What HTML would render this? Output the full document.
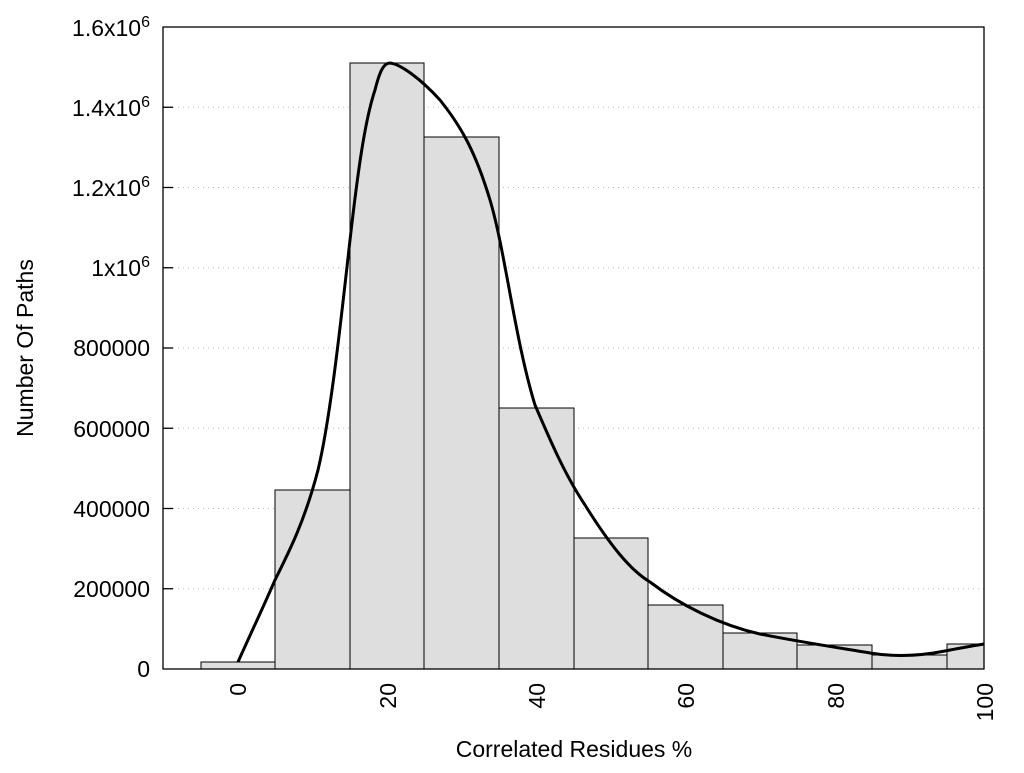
<!DOCTYPE html>
<html><head><style>body{margin:0;background:#fff}</style></head><body>
<svg width="1024" height="768" xmlns="http://www.w3.org/2000/svg" font-family="Liberation Sans, Arial, sans-serif" font-size="23">
<rect width="1024" height="768" fill="#fff"/>
<g stroke="#bbb" stroke-dasharray="1,4" stroke-width="1">
<line x1="173" x2="984" y1="588.75" y2="588.75"/><line x1="173" x2="984" y1="508.5" y2="508.5"/>
<line x1="173" x2="984" y1="428.25" y2="428.25"/><line x1="173" x2="984" y1="348" y2="348"/>
<line x1="173" x2="984" y1="267.75" y2="267.75"/><line x1="173" x2="984" y1="187.5" y2="187.5"/>
<line x1="173" x2="984" y1="107.25" y2="107.25"/>
</g>
<g fill="#dedede" stroke="#000" stroke-width="1">
<rect x="201" y="662" width="74" height="7"/>
<rect x="275" y="490" width="75" height="179"/>
<rect x="350" y="63" width="74" height="606"/>
<rect x="424" y="137" width="75" height="532"/>
<rect x="499" y="408" width="75" height="261"/>
<rect x="574" y="538" width="74" height="131"/>
<rect x="648" y="605" width="75" height="64"/>
<rect x="723" y="633" width="74" height="36"/>
<rect x="797" y="645" width="75" height="24"/>
<rect x="872" y="655" width="75" height="14"/>
<rect x="947" y="644" width="37" height="25"/>
</g>
<path d="M238,662 C250,635 262,610 275,580 C290,550 305,520 318,470 C330,420 340,330 350,240 C358,170 365,120 375,90 C380,70 384,63 390,63 C400,64 420,78 440,100 C460,125 475,150 490,200 C505,250 515,340 535,405 C550,440 565,475 585,505 C610,545 630,570 650,582 C680,605 720,625 760,634 C800,642 840,648 870,653 C895,657 920,656 945,651 C960,648 972,646 984,644" fill="none" stroke="#000" stroke-width="3"/>
<rect x="163" y="27" width="821" height="642" fill="none" stroke="#000" stroke-width="1.3"/>
<g stroke="#000" stroke-width="1.3">
<line x1="163" x2="173" y1="588.75" y2="588.75"/><line x1="163" x2="173" y1="508.5" y2="508.5"/>
<line x1="163" x2="173" y1="428.25" y2="428.25"/><line x1="163" x2="173" y1="348" y2="348"/>
<line x1="163" x2="173" y1="267.75" y2="267.75"/><line x1="163" x2="173" y1="187.5" y2="187.5"/>
<line x1="163" x2="173" y1="107.25" y2="107.25"/>
</g>
<g text-anchor="end" fill="#000">
<text x="150" y="677">0</text>
<text x="150" y="597">200000</text>
<text x="150" y="517">400000</text>
<text x="150" y="437">600000</text>
<text x="150" y="356">800000</text>
<text x="150" y="276">1x10<tspan dy="-9" font-size="16">6</tspan></text>
<text x="150" y="196">1.2x10<tspan dy="-9" font-size="16">6</tspan></text>
<text x="150" y="116">1.4x10<tspan dy="-9" font-size="16">6</tspan></text>
<text x="150" y="36">1.6x10<tspan dy="-9" font-size="16">6</tspan></text>
</g>
<g text-anchor="end" fill="#000">
<text transform="translate(246,683) rotate(-90)">0</text>
<text transform="translate(396,683) rotate(-90)">20</text>
<text transform="translate(545,683) rotate(-90)">40</text>
<text transform="translate(694,683) rotate(-90)">60</text>
<text transform="translate(844,683) rotate(-90)">80</text>
<text transform="translate(993,683) rotate(-90)">100</text>
</g>
<text x="574" y="757" text-anchor="middle">Correlated Residues %</text>
<text transform="translate(33,348) rotate(-90)" text-anchor="middle">Number Of Paths</text>
</svg>
</body></html>
